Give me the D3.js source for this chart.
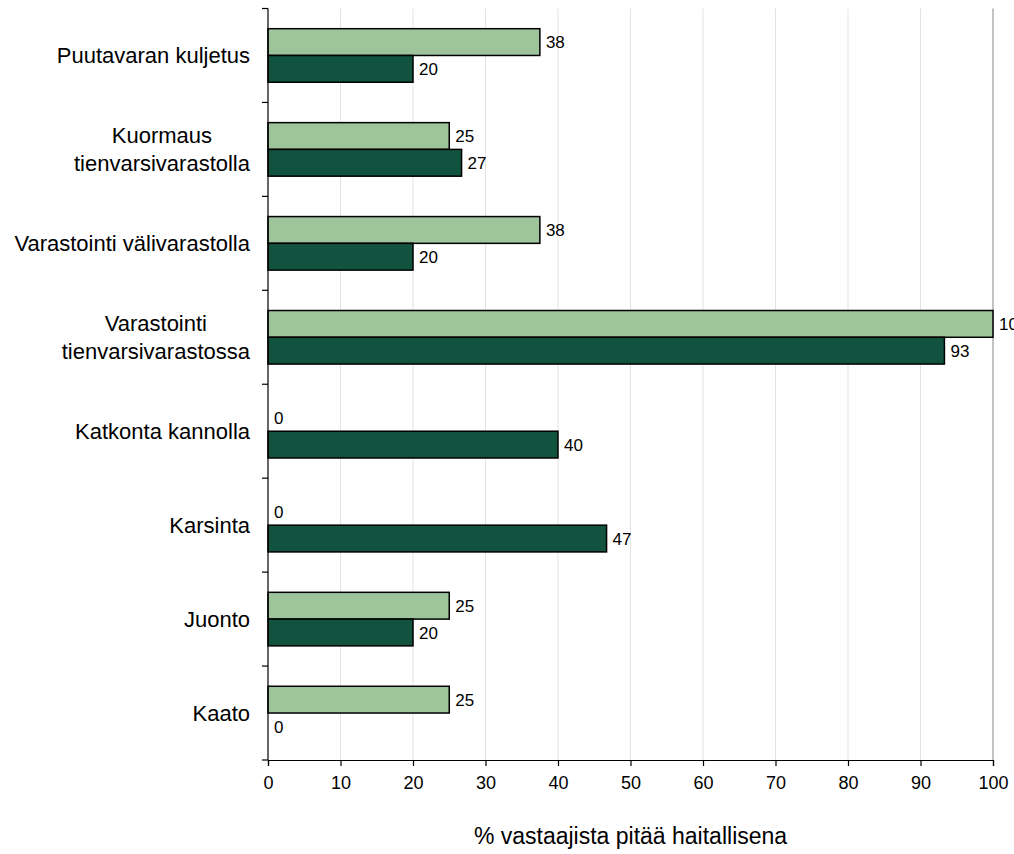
<!DOCTYPE html>
<html>
<head>
<meta charset="utf-8">
<script src="https://cdn.jsdelivr.net/npm/d3@7"></script>
<style>
  html, body { margin: 0; padding: 0; background: #fff; }
  svg { display: block; font-family: "Liberation Sans", Arial, sans-serif; }
</style>
</head>
<body>
<svg id="chart" width="1014" height="854"></svg>
<script>
// Work phases, listed top to bottom
const categories = [
  ["Puutavaran kuljetus"],
  ["Kuormaus", "tienvarsivarastolla"],
  ["Varastointi välivarastolla"],
  ["Varastointi", "tienvarsivarastossa"],
  ["Katkonta kannolla"],
  ["Karsinta"],
  ["Juonto"],
  ["Kaato"]
];
// Share of respondents (%) who consider the phase harmful, two respondent groups
const seriesLight = [37.5, 25, 37.5, 100, 0, 0, 25, 25];
const seriesDark  = [20, 26.7, 20, 93.3, 40, 46.7, 20, 0];
const xTicks = [0, 10, 20, 30, 40, 50, 60, 70, 80, 90, 100];
const xTitle = "% vastaajista pitää haitallisena";

const colors = { light: "#9dc49a", dark: "#11533f" };

const svg = d3.select("#chart");
const m = { left: 268, right: 993, top: 8.5, bottom: 760 };

const x = d3.scaleLinear().domain([0, 100]).range([m.left, m.right]);
const y = d3.scaleBand().domain(d3.range(categories.length))
  .range([m.top, m.bottom]).paddingInner(0.43).paddingOuter(0.215);
const ySub = d3.scaleBand().domain(["light", "dark"]).range([0, y.bandwidth()]);

// vertical gridlines
svg.append("g").selectAll("line").data(xTicks.filter(t => t > 0 && t < 100)).join("line")
  .attr("x1", d => x(d)).attr("x2", d => x(d))
  .attr("y1", m.top).attr("y2", m.bottom)
  .attr("stroke", "#e3e3e3").attr("stroke-width", 1);
// right edge of plot
svg.append("line")
  .attr("x1", x(100)).attr("x2", x(100)).attr("y1", m.top).attr("y2", m.bottom)
  .attr("stroke", "#9a9a9a").attr("stroke-width", 1.2);

// bars
const rows = categories.map((c, i) => ({ i, light: seriesLight[i], dark: seriesDark[i] }));
const fmt = d3.format(".0f");
const groups = svg.append("g").selectAll("g").data(rows).join("g")
  .attr("transform", d => `translate(0,${y(d.i)})`);

["light", "dark"].forEach(key => {
  groups.filter(d => d[key] > 0).append("rect")
    .attr("x", x(0))
    .attr("y", ySub(key))
    .attr("width", d => x(d[key]) - x(0))
    .attr("height", ySub.bandwidth())
    .attr("fill", colors[key])
    .attr("stroke", "#000").attr("stroke-width", 1.5);
  groups.append("text")
    .attr("x", d => x(d[key]) + 6)
    .attr("y", ySub(key) + ySub.bandwidth() / 2)
    .attr("dy", "0.36em")
    .attr("font-size", 17)
    .attr("fill", "#000")
    .text(d => fmt(d[key]));
});

// y axis
const yAxisG = svg.append("g");
yAxisG.append("line").attr("x1", m.left).attr("x2", m.left)
  .attr("y1", m.top).attr("y2", m.bottom).attr("stroke", "#000").attr("stroke-width", 1.2);
const boundaries = d3.range(categories.length + 1).map(i => m.top + i * y.step());
yAxisG.selectAll("line.tick").data(boundaries).join("line").attr("class", "tick")
  .attr("x1", m.left - 6).attr("x2", m.left)
  .attr("y1", d => d).attr("y2", d => d)
  .attr("stroke", "#000").attr("stroke-width", 1.2);

// category labels: lines centred on each other, block right-aligned near the axis
const labelRight = 250;
const lineH = 28;
categories.forEach((lines, i) => {
  const cy = y(i) + y.bandwidth() / 2;
  const t = svg.append("text").attr("font-size", 22).attr("fill", "#000")
    .attr("text-anchor", "middle");
  lines.forEach((ln, k) => {
    t.append("tspan").attr("x", 0)
      .attr("y", cy + (k - (lines.length - 1) / 2) * lineH)
      .attr("dy", "0.36em").text(ln);
  });
  const w = d3.max(t.selectAll("tspan").nodes(), n => n.getComputedTextLength());
  t.selectAll("tspan").attr("x", labelRight - w / 2);
});

// x axis
const xAxis = d3.axisBottom(x).tickValues(xTicks).tickSize(6).tickPadding(10).tickFormat(d3.format("d"));
const xg = svg.append("g").attr("transform", `translate(0,${m.bottom})`).call(xAxis);
xg.select(".domain").attr("stroke", "#000").attr("stroke-width", 1.2);
xg.selectAll(".tick line").attr("stroke", "#000").attr("stroke-width", 1.2);
xg.selectAll(".tick text").attr("font-size", 18).attr("fill", "#000")
  .attr("font-family", "Liberation Sans, Arial, sans-serif");

// axis title
svg.append("text").attr("x", (m.left + m.right) / 2).attr("y", 844)
  .attr("text-anchor", "middle").attr("font-size", 23).attr("fill", "#000")
  .text(xTitle);
</script>
</body>
</html>
